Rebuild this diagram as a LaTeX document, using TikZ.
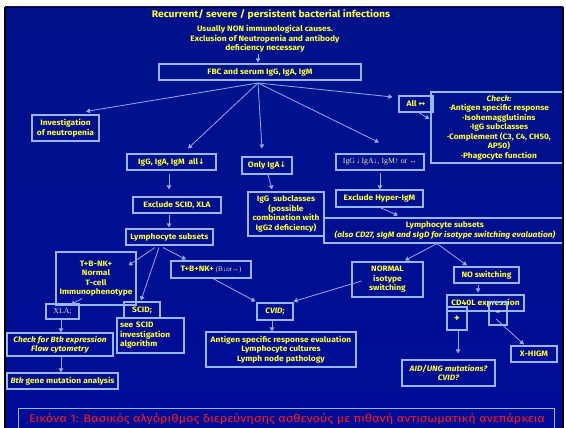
\documentclass[tikz,border=0pt]{standalone}
\usepackage{fontspec}
\setmainfont{Fira Sans}[FakeStretch=1.08]
\newfontfamily\capfont{Fira Sans}[FakeStretch=1.15]
\newfontfamily\symf{DejaVu Sans}
\newfontfamily\serf{Liberation Serif}
\usetikzlibrary{arrows.meta}

\definecolor{txt}{RGB}{255,255,51}
\definecolor{pale}{RGB}{225,225,165}
\definecolor{edge}{RGB}{150,185,245}
\definecolor{wire}{RGB}{140,175,240}
\definecolor{capred}{RGB}{255,25,25}
\definecolor{bgtop}{RGB}{0,18,138}
\definecolor{bgmid}{RGB}{10,38,178}
\definecolor{bgbot}{RGB}{0,12,150}

\newcommand{\arrdn}{{\symf ↓}}
\newcommand{\arrlr}{{\symf ↔}}

\tikzset{
  box/.style={draw=edge, line width=1.1pt, inner sep=0pt, text=txt,
    font=\bfseries\fontsize{7.8}{9.5}\selectfont, align=center},
  label/.style={inner sep=0pt, text=txt,
    font=\bfseries\fontsize{7.8}{9.5}\selectfont, align=center},
  arr/.style={draw=wire, line width=0.8pt, -{Triangle[length=4pt,width=4.5pt]}},
  wd/.style={minimum width=#1 pt},
  ht/.style={minimum height=#1 pt}
}

\begin{document}
\begin{tikzpicture}[x=1pt,y=-1pt]
\useasboundingbox (0,0) rectangle (566,428);
\fill[white] (0,0) rectangle (566,428);
\shade[top color=bgtop, middle color=bgmid, bottom color=bgbot] (5,7) rectangle (563,428);

\begin{scope}
\clip (5,7) rectangle (563,428);

% heading
\node[label, font=\bfseries\fontsize{9.6}{11}\selectfont] (title) at (271,15)
  {Recurrent/ severe / persistent bacterial infections};
\node[label] (sub) at (265,39)
  {Usually NON immunological causes.\\Exclusion of Neutropenia and antibody\\deficiency necessary};

\node[box, wd=202, ht=16] (fbc) at (260,72) {FBC and serum IgG, IgA, IgM};
\coordinate (fan) at (258,83);

% first split
\node[box, wd=67, ht=26] (neut) at (65.5,128) {Investigation\\of neutropenia};
\node[box, wd=89, ht=16] (allow) at (171.5,162) {IgG, IgA, IgM\ \ all\arrdn};
\node[box, wd=50, ht=17] (onlya) at (267,165.5) {Only IgA\arrdn};
\node[box, wd=88, ht=16, font=\serf\fontsize{7.8}{9.5}\selectfont, text=pale] (mixed) at (380,162)
  {IgG\,↓\,IgA↓, IgM↑ or ↔};
\node[box, wd=34, ht=16] (allnorm) at (416,104) {All \arrlr};
\node[box, wd=136, ht=71] (check) at (499,127.5)
  {\itshape Check:\\·Antigen specific response\\·Isohemagglutinins\\·IgG subclasses\\
   ·Complement (C3, C4, CH50,\\AP50)\\·Phagocyte function};

% all low branch
\node[box, wd=88, ht=16] (exscid) at (177,205) {Exclude SCID, XLA};
\node[box, wd=87, ht=16] (lymphA) at (169.5,237) {Lymphocyte subsets};
\node[box, wd=80, ht=53] (tbnk) at (96,278.5) {T+B-NK+\\Normal\\T-cell\\Immunophenotype};
\node[box, wd=80, ht=17] (tbpnk) at (211,269.5)
  {T+B+NK+ {\mdseries\serf\color{pale}\fontsize{7}{8}\selectfont (B↓or↔)}};
\node[box, wd=33, ht=15, font=\serf\fontsize{7.8}{9.5}\selectfont, text=pale] (xla) at (62.5,311.5) {XLA;};
\node[box, wd=36, ht=16] (scid) at (142,310) {SCID;};
\node[box, wd=67, ht=35, align=left, text width=61pt] (seescid) at (150.5,335.5)
  {see SCID\\investigation\\algorithm};
\node[box, wd=36, ht=17] (cvid) at (275,311.5) {\itshape CVID;};
\node[box, wd=150, ht=35] (antig) at (281,349.5)
  {Antigen specific response evaluation\\Lymphocyte cultures\\Lymph node pathology};
\node[box, wd=106, ht=23] (btk) at (60,344.5) {\itshape Check for Btk expression\\\itshape Flow cytometry};
\node[box, wd=111, ht=16] (btkgene) at (62.5,381) {\textit{Btk} gene mutation analysis};

% only IgA low
\node[box, wd=76, ht=44] (igsub) at (286,214)
  {IgG\ \ subclasses\\(possible\\combination with\\IgG2 deficiency)};

% IgG and IgA low, IgM high or normal
\node[box, wd=87, ht=17] (hyper) at (379.5,198.5) {Exclude Hyper-IgM};
\node[box, wd=242, ht=25] (lymphB) at (445,230.5)
  {Lymphocyte subsets\\\itshape (also CD27, sIgM and sIgD for isotype switching evaluation)};
\node[box, wd=71, ht=35] (normal) at (387.5,279.5) {NORMAL\\isotype\\switching};
\node[box, wd=65, ht=16] (noswitch) at (486.5,275) {NO switching};
\node[box, wd=77, ht=16] (cd40) at (485.5,303) {CD40L expression};
\node[box, wd=20, ht=23, font=\bfseries\fontsize{10}{11}\selectfont] (plus) at (457,318.5) {+};
\node[box, wd=18, ht=23, font=\bfseries\fontsize{10}{11}\selectfont] (minus) at (498,313.5) {-};
\node[box, wd=93, ht=26] (aid) at (448.5,373) {\itshape AID/UNG mutations?\\\itshape CVID?};
\node[box, wd=46, ht=16] (xhigm) at (534,354) {X-HIGM};

% caption
\node[draw=edge, line width=1.1pt, minimum width=536pt, minimum height=36pt, inner sep=0pt,
  anchor=north west] (capbox) at (18,408) {};
\node[inner sep=0pt, text=capred, font=\capfont\fontsize{11.1}{13}\selectfont] (caption) at (287,419)
  {Εικόνα 1: Βασικός αλγόριθμος διερεύνησης ασθενούς με πιθανή αντισωματική ανεπάρκεια};

% connectors
\draw[arr] ([yshift=-1pt]sub.south -| fan) -- ([yshift=1pt]fbc.north -| fan);
\draw[arr] (fan) -- ([shift={(20.5,-3)}]neut.north);
\draw[arr] (fan) -- ([shift={(16.5,-5)}]allow.north);
\draw[arr] (fan) -- ([shift={(-5,-8)}]onlya.north);
\draw[arr] (fan) -- ([shift={(-1,-11)}]mixed.north);
\draw[arr] (fan) -- ([shift={(-6,-7)}]allnorm.west);
\draw[arr] ([shift={(1,-1)}]allnorm.south) -- ([shift={(-1,-8.5)}]check.west);

\draw[arr] ([shift={(-2.5,3)}]allow.south) -- ([shift={(-8,-7)}]exscid.north);
\draw[arr] ([shift={(-8,1)}]exscid.south) -- ([shift={(-0.5,-1)}]lymphA.north);
\draw[arr] ([shift={(-14.5,2)}]lymphA.south) -- ([shift={(-8,14)}]tbnk.north east);
\draw[arr] ([shift={(-10.5,2)}]lymphA.south) -- ([shift={(-1,-1)}]scid.north);
\draw[arr] ([shift={(-6.5,2)}]lymphA.south) -- ([shift={(-25,-1)}]tbpnk.north);
\draw[arr] ([shift={(-14,-7)}]tbnk.south) -- ([shift={(8.5,1)}]xla.north);
\draw[arr] ([shift={(2,0)}]tbpnk.south) -- ([shift={(-1,-1)}]cvid.north west);
\draw[arr] ([shift={(10,1.5)}]normal.west) -- ([shift={(0,-1)}]cvid.north east);
\draw[arr] ([shift={(-3,0)}]cvid.south) -- ([shift={(-9,0)}]antig.north);
\draw[arr] ([shift={(-1.5,0)}]xla.south) -- ([shift={(1,0)}]btk.north);
\draw[arr] ([shift={(1,0)}]btk.south) -- ([shift={(-1.5,0)}]btkgene.north);

\draw[arr] ([shift={(1,0)}]onlya.south) -- ([shift={(-14,-2)}]igsub.north);
\draw[arr] ([shift={(0,2)}]mixed.south) -- ([shift={(0.5,0)}]hyper.north);
\draw[arr] ([shift={(0.5,0)}]hyper.south) -- ([shift={(-47,-2)}]lymphB.north);
\draw[arr] ([shift={(-8,0)}]lymphB.south) -- ([shift={(17.5,-1)}]normal.north);
\draw[arr] ([shift={(-8,0)}]lymphB.south) -- ([shift={(-19.5,-1)}]noswitch.north);
\draw[arr] ([shift={(-8.5,1)}]noswitch.south) -- ([shift={(-7.5,-2)}]cd40.north);
\draw[arr] ([shift={(1,0)}]plus.south) -- ([shift={(9.5,-6)}]aid.north);
\draw[arr] ([shift={(-2,5.5)}]minus.center) -- ([shift={(-10,-1)}]xhigm.north);
\end{scope}

% slide frame
\draw[black, line width=2.5pt] (4.75,430) -- (4.75,7.5);
\draw[black, line width=1.5pt] (4,7.5) -- (563.5,7.5);
\draw[black, line width=2pt] (563,7.5) -- (563,430);
\end{tikzpicture}
\end{document}
